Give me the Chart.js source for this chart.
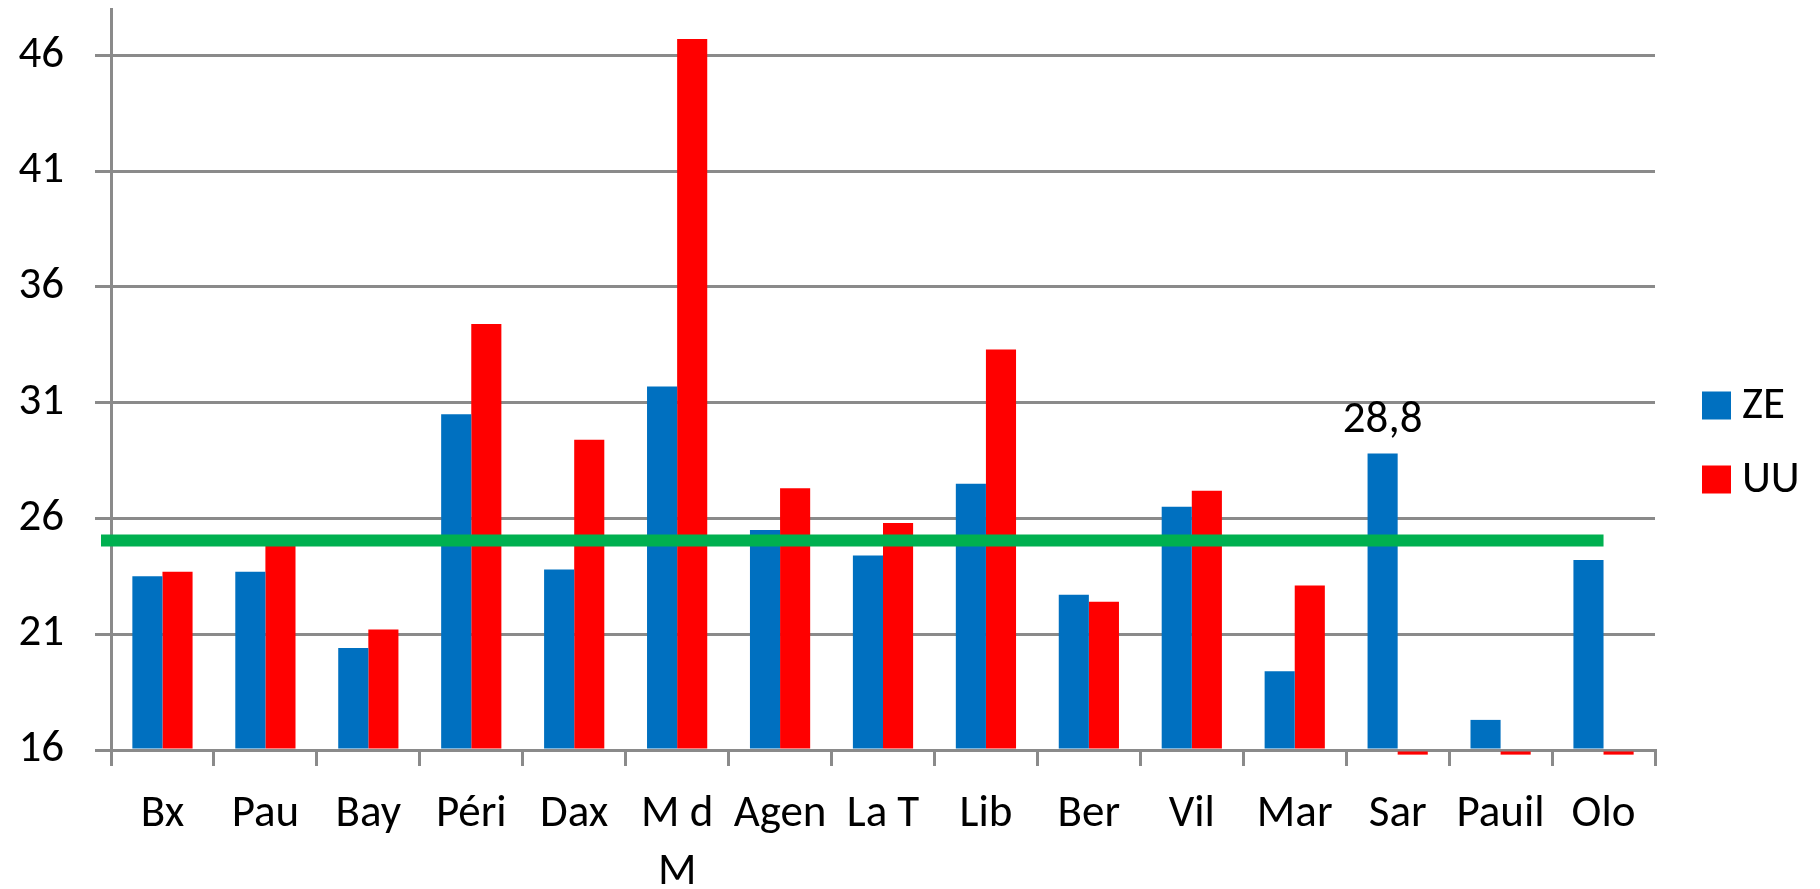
<!DOCTYPE html>
<html>
<head>
<meta charset="utf-8">
<script src="https://cdn.jsdelivr.net/npm/chart.js@4.4.1/dist/chart.umd.min.js"></script>
<style>
  html, body { margin: 0; padding: 0; background: #fff; }
  #wrap { width: 1820px; height: 889px; }
</style>
</head>
<body>
<div id="wrap"><canvas id="chart" width="1820" height="889"></canvas></div>
<script>
// data
const categories = ['Bx', 'Pau', 'Bay', 'Péri', 'Dax', ['M d', 'M'], 'Agen', 'La T', 'Lib', 'Ber', 'Vil', 'Mar', 'Sar', 'Pauil', 'Olo'];
const zeValues = [23.5, 23.7, 20.4, 30.5, 23.8, 31.7, 25.5, 24.4, 27.5, 22.7, 26.5, 19.4, 28.8, 17.3, 24.2];
const uuValues = [23.7, 25.0, 21.2, 34.4, 29.4, 46.7, 27.3, 25.8, 33.3, 22.4, 27.2, 23.1, 15.8, 15.8, 15.8];
const zeLabels = [null, null, null, null, null, null, null, null, null, null, null, null, '28,8', null, null];
const refLevel = 25.05;
const yTicks = [16, 21, 26, 31, 36, 41, 46];

const FONT = 'Carlito, Lato, sans-serif';
const FONT_SIZE = 45;
const GRID = '#8a8a8a';

// green horizontal reference line, drawn over the bars
const refLinePlugin = {
    id: 'refLine',
    afterDatasetsDraw(chart) {
        const { ctx, chartArea, scales } = chart;
        const y = scales.y.getPixelForValue(refLevel);
        const x1 = scales.x.getPixelForValue(categories.length - 1);
        ctx.save();
        ctx.strokeStyle = '#00B050';
        ctx.lineWidth = 12;
        ctx.beginPath();
        ctx.moveTo(chartArea.left - 10, y);
        ctx.lineTo(x1, y);
        ctx.stroke();
        ctx.restore();
    }
};

// value label above the ZE bar
const barLabelPlugin = {
    id: 'barLabel',
    afterDatasetsDraw(chart) {
        const { ctx } = chart;
        const meta = chart.getDatasetMeta(0);
        ctx.save();
        ctx.fillStyle = '#000';
        ctx.font = FONT_SIZE + 'px ' + FONT;
        ctx.textAlign = 'center';
        ctx.textBaseline = 'alphabetic';
        zeLabels.forEach((txt, i) => {
            if (!txt) return;
            const bar = meta.data[i];
            ctx.fillText(txt, bar.x, bar.y - 22);
        });
        ctx.restore();
    }
};

// legend on the right, centred on the canvas height
const sideLegendPlugin = {
    id: 'sideLegend',
    afterDraw(chart) {
        const { ctx, chartArea } = chart;
        const x = chartArea.right + 47;
        const mid = chart.height / 2;
        ctx.save();
        ctx.font = FONT_SIZE + 'px ' + FONT;
        ctx.textBaseline = 'middle';
        ctx.textAlign = 'left';
        chart.data.datasets.forEach((ds, i) => {
            const cy = mid - 39 + i * 74;
            ctx.fillStyle = ds.backgroundColor;
            ctx.fillRect(x, cy - 14, 29, 28);
            ctx.fillStyle = '#000';
            ctx.fillText(ds.label, x + 40, cy + 1);
        });
        ctx.restore();
    }
};

new Chart(document.getElementById('chart'), {
    type: 'bar',
    data: {
        labels: categories,
        datasets: [
            { label: 'ZE', data: zeValues, backgroundColor: '#0070C0' },
            { label: 'UU', data: uuValues, backgroundColor: '#FF0000' }
        ]
    },
    options: {
        responsive: false,
        animation: false,
        devicePixelRatio: 1,
        layout: { padding: { top: 9, right: 165, left: 0, bottom: 0 } },
        datasets: { bar: { categoryPercentage: 0.585, barPercentage: 1.0, base: yTicks[0], clip: false } },
        plugins: {
            legend: { display: false },
            tooltip: { enabled: false }
        },
        scales: {
            x: {
                offset: true,
                grid: { display: true, offset: true, drawOnChartArea: false, drawTicks: true, tickLength: 16, color: GRID, lineWidth: 3 },
                border: { display: true, color: GRID, width: 3 },
                ticks: { color: '#000', font: { family: FONT, size: FONT_SIZE, lineHeight: 1.29 }, maxRotation: 0, autoSkip: false, padding: 20 },
                afterFit(scale) { scale.height = 139; scale.paddingLeft = 0; scale.paddingRight = 0; }
            },
            y: {
                min: 16,
                max: 48,
                afterBuildTicks(scale) { scale.ticks = yTicks.map(v => ({ value: v })); },
                grid: { color: GRID, lineWidth: 3, tickLength: 16, drawTicks: true },
                border: { display: true, color: GRID, width: 3 },
                ticks: { color: '#000', font: { family: FONT, size: FONT_SIZE }, padding: 31 },
                afterFit(scale) { scale.width = 111; scale.paddingTop = 0; scale.paddingBottom = 0; }
            }
        }
    },
    plugins: [refLinePlugin, barLabelPlugin, sideLegendPlugin]
});
</script>
</body>
</html>
